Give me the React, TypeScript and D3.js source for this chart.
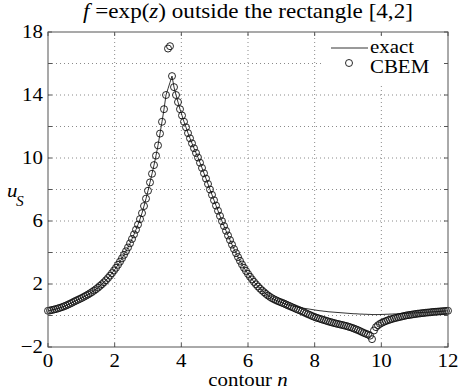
import * as d3 from "d3";

// contour parameter n is sampled uniformly from 0 to 12
const contourStep = 0.06;

// exact solution u_S along the contour (one value per sample)
const exactValues = [
  0.3, 0.32, 0.35, 0.38, 0.41, 0.45, 0.49, 0.53, 0.58, 0.63,
  0.69, 0.75, 0.81, 0.88, 0.94, 1.0, 1.06, 1.12, 1.19, 1.26,
  1.33, 1.41, 1.49, 1.58, 1.67, 1.77, 1.88, 1.99, 2.11, 2.24,
  2.38, 2.53, 2.69, 2.86, 3.03, 3.22, 3.42, 3.63, 3.85, 4.08,
  4.32, 4.58, 4.86, 5.15, 5.45, 5.77, 6.12, 6.5, 6.95, 7.42,
  7.92, 8.45, 9.0, 9.55, 10.15, 10.8, 11.55, 12.3, 13.1, 14.0,
  14.4, 14.8, 15.2, 14.5, 14.0, 13.55, 13.1, 12.7, 12.3, 11.95,
  11.58, 11.25, 10.93, 10.62, 10.32, 10.03, 9.7, 9.37, 9.03, 8.69,
  8.35, 8.0, 7.66, 7.32, 6.98, 6.65, 6.32, 5.99, 5.68, 5.38,
  5.08, 4.79, 4.5, 4.22, 3.96, 3.71, 3.47, 3.24, 3.03, 2.83,
  2.64, 2.46, 2.29, 2.13, 1.98, 1.84, 1.71, 1.59, 1.48, 1.37,
  1.27, 1.18, 1.1, 1.03, 0.97, 0.91, 0.86, 0.81, 0.76, 0.72,
  0.68, 0.65, 0.62, 0.59, 0.56, 0.53, 0.51, 0.48, 0.46, 0.44,
  0.42, 0.4, 0.38, 0.36, 0.34, 0.32, 0.3, 0.29, 0.27, 0.26,
  0.24, 0.23, 0.22, 0.21, 0.2, 0.19, 0.18, 0.17, 0.16, 0.15,
  0.14, 0.13, 0.12, 0.11, 0.11, 0.1, 0.09, 0.09, 0.08, 0.08,
  0.07, 0.07, 0.06, 0.06, 0.06, 0.06, 0.06, 0.07, 0.07, 0.08,
  0.08, 0.09, 0.09, 0.1, 0.1, 0.11, 0.12, 0.12, 0.13, 0.14,
  0.14, 0.15, 0.16, 0.16, 0.17, 0.18, 0.18, 0.19, 0.2, 0.21,
  0.21, 0.22, 0.23, 0.24, 0.24, 0.25, 0.26, 0.27, 0.28, 0.29,
  0.3,
];

// CBEM approximation at the same samples
const cbemValues = [
  0.3, 0.32, 0.35, 0.38, 0.41, 0.45, 0.49, 0.53, 0.58, 0.63,
  0.69, 0.75, 0.81, 0.88, 0.94, 1.0, 1.06, 1.12, 1.19, 1.26,
  1.33, 1.41, 1.49, 1.58, 1.67, 1.77, 1.88, 1.99, 2.11, 2.24,
  2.38, 2.53, 2.69, 2.86, 3.03, 3.22, 3.42, 3.63, 3.85, 4.08,
  4.32, 4.58, 4.86, 5.15, 5.45, 5.77, 6.12, 6.5, 6.95, 7.42,
  7.92, 8.45, 9.0, 9.55, 10.15, 10.8, 11.55, 12.3, 13.1, 14.0,
  16.95, 17.1, 15.2, 14.5, 14.0, 13.55, 13.1, 12.7, 12.3, 11.95,
  11.58, 11.25, 10.93, 10.62, 10.32, 10.03, 9.7, 9.37, 9.03, 8.69,
  8.35, 8.0, 7.66, 7.32, 6.98, 6.65, 6.32, 5.99, 5.68, 5.38,
  5.08, 4.79, 4.5, 4.22, 3.96, 3.71, 3.47, 3.24, 3.03, 2.83,
  2.64, 2.46, 2.29, 2.13, 1.98, 1.84, 1.71, 1.59, 1.48, 1.37,
  1.27, 1.18, 1.1, 1.03, 0.97, 0.91, 0.86, 0.81, 0.76, 0.7,
  0.64, 0.59, 0.53, 0.48, 0.42, 0.37, 0.32, 0.26, 0.2, 0.14,
  0.08, 0.03, -0.03, -0.08, -0.13, -0.17, -0.21, -0.25, -0.29, -0.33,
  -0.37, -0.41, -0.44, -0.48, -0.51, -0.54, -0.57, -0.6, -0.63, -0.66,
  -0.7, -0.74, -0.78, -0.83, -0.88, -0.93, -0.99, -1.05, -1.11, -1.16,
  -1.21, -1.28, -1.5, -0.95, -0.74, -0.62, -0.53, -0.46, -0.4, -0.35,
  -0.3, -0.26, -0.22, -0.18, -0.15, -0.12, -0.09, -0.06, -0.03, 0.0,
  0.02, 0.04, 0.06, 0.08, 0.1, 0.12, 0.13, 0.15, 0.16, 0.18,
  0.19, 0.2, 0.22, 0.23, 0.24, 0.25, 0.26, 0.27, 0.28, 0.29,
  0.3,
];

const xTicks = [0, 2, 4, 6, 8, 10, 12];
const yTicks = [-2, 0, 2, 4, 6, 8, 10, 12, 14, 16, 18];
const yTickLabels = [-2, 2, 6, 10, 14, 18];

const W = 459;
const H = 392;
const m = { left: 48, right: 11, top: 32, bottom: 45 };
const font = "'Liberation Serif', 'Times New Roman', serif";
const sx = 1.1; // picture text is a little wider than tall

export default function App() {
  const x = d3.scaleLinear().domain([0, 12]).range([m.left, W - m.right]);
  const y = d3.scaleLinear().domain([-2, 18]).range([H - m.bottom, m.top]);
  const [x0, x1] = x.range();
  const [y0, y1] = y.range();

  const exact = exactValues.map((v, i) => [i * contourStep, v] as [number, number]);
  const cbem = cbemValues.map((v, i) => [i * contourStep, v] as [number, number]);

  const line = d3
    .line<[number, number]>()
    .x((d) => x(d[0]))
    .y((d) => y(d[1]));

  const txt = (tx: number, ty: number) => `translate(${tx},${ty}) scale(${sx},1)`;

  return (
    <div style={{ position: "absolute", left: 0, top: 0 }}>
      <svg width={W} height={H} style={{ display: "block", background: "#fff" }} fontFamily={font}>
        {/* grid */}
        <g stroke="#8a8a8a" strokeWidth={1} strokeDasharray="1,3">
          {xTicks.slice(1, -1).map((t) => (
            <line key={"gx" + t} x1={x(t)} x2={x(t)} y1={y0} y2={y1} />
          ))}
          {yTicks.slice(1, -1).map((t) => (
            <line key={"gy" + t} x1={x0} x2={x1} y1={y(t)} y2={y(t)} />
          ))}
        </g>

        {/* data */}
        <path d={line(exact) ?? ""} fill="none" stroke="#000" strokeWidth={0.8} />
        <g fill="none" stroke="#111" strokeWidth={0.9}>
          {cbem.map((d, i) => (
            <circle key={i} cx={x(d[0])} cy={y(d[1])} r={3.5} />
          ))}
        </g>

        {/* legend */}
        <rect x={323} y={38} width={123} height={46} fill="#fff" />
        <line x1={331} x2={368} y1={48} y2={48} stroke="#000" strokeWidth={0.8} />
        <text transform={txt(370, 53)} fontSize={19}>exact</text>
        <circle cx={349} cy={63} r={3.5} fill="none" stroke="#111" strokeWidth={0.9} />
        <text transform={txt(370, 73)} fontSize={19}>CBEM</text>

        {/* axes box and ticks */}
        <rect x={x0} y={y1} width={x1 - x0} height={y0 - y1} fill="none" stroke="#555" strokeWidth={1} />
        <g stroke="#555" strokeWidth={1}>
          {xTicks.map((t) => (
            <g key={"tx" + t}>
              <line x1={x(t)} x2={x(t)} y1={y0} y2={y0 - 4} />
              <line x1={x(t)} x2={x(t)} y1={y1} y2={y1 + 4} />
            </g>
          ))}
          {yTicks.map((t) => (
            <g key={"ty" + t}>
              <line x1={x0} x2={x0 + 4} y1={y(t)} y2={y(t)} />
              <line x1={x1} x2={x1 - 4} y1={y(t)} y2={y(t)} />
            </g>
          ))}
        </g>

        {/* tick labels */}
        <g fontSize={19} fill="#000">
          {xTicks.map((t) => (
            <text key={"lx" + t} transform={txt(x(t), y0 + 20)} textAnchor="middle">
              {t}
            </text>
          ))}
          {yTickLabels.map((t) => (
            <text key={"ly" + t} transform={txt(x0 - 5, y(t) + 6)} textAnchor="end">
              {t < 0 ? "\u2212" + Math.abs(t) : t}
            </text>
          ))}
        </g>

        {/* axis labels */}
        <text transform={txt((x0 + x1) / 2, 386)} textAnchor="middle" fontSize={19}>
          contour <tspan fontStyle="italic">n</tspan>
        </text>
        <text transform={txt(7, 197)} fontSize={19} fontStyle="italic">
          u
        </text>
        <text transform={txt(16, 206)} fontSize={14} fontStyle="italic">
          S
        </text>

        {/* title */}
        <text transform={txt((x0 + x1) / 2, 18)} textAnchor="middle" fontSize={21}>
          <tspan fontStyle="italic">f</tspan> =exp(<tspan fontStyle="italic">z</tspan>) outside the rectangle [4,2]
        </text>
      </svg>
    </div>
  );
}
